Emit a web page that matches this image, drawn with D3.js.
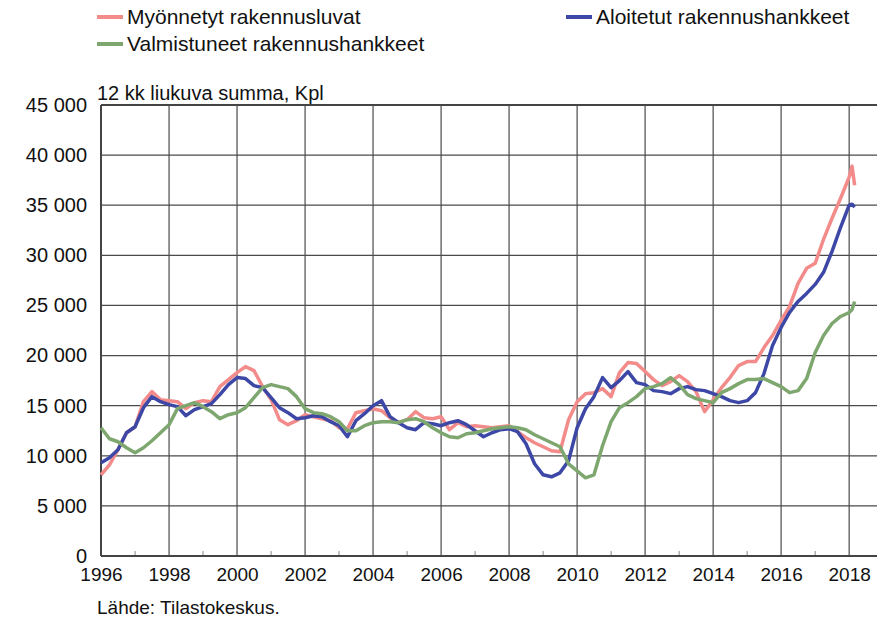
<!DOCTYPE html>
<html>
<head>
<meta charset="utf-8">
<script src="https://cdn.jsdelivr.net/npm/d3@7"></script>
<style>
  body { margin: 0; background: #fff; }
  text { font-family: "Liberation Sans", Arial, sans-serif; fill: #111; }
</style>
</head>
<body>
<div id="chart"></div>
<script>
// Quarterly readings (Jan/Apr/Jul/Oct), last two are Feb and Mar 2018
var myonnetyt = [
  8100, 9100, 10600, 12300,
  12900, 15400, 16400, 15600,
  15500, 15400, 14700, 15300,
  15500, 15400, 16900, 17600,
  18300, 18900, 18500, 16900,
  15600, 13600, 13100, 13500,
  14100, 13900, 13700, 13500,
  12800, 12700, 14300, 14500,
  14700, 14500, 13800, 13300,
  13600, 14400, 13800, 13700,
  13900, 12600, 13300, 12900,
  13000, 12900, 12800, 12900,
  13000, 12400, 11800, 11300,
  10900, 10500, 10400, 13600,
  15400, 16200, 16300, 16700,
  15900, 18300, 19300, 19200,
  18400, 17600, 17000, 17400,
  18000, 17400, 16400, 14400,
  15600, 16800, 17800, 19000,
  19400, 19400, 20800, 22000,
  23500, 24900, 27200, 28700,
  29200, 31600, 33700, 35700,
  37800, 38900, 37000
];

var aloitetut = [
  9300, 9800, 10600, 12300,
  12900, 14800, 15900, 15400,
  15100, 14900, 14000, 14600,
  14900, 15200, 16100, 17100,
  17800, 17700, 17000, 16800,
  15800, 14800, 14300, 13700,
  13800, 14000, 13900, 13400,
  13000, 11900, 13500, 14200,
  15000, 15500, 13900, 13300,
  12800, 12600, 13300, 13200,
  13000, 13300, 13500, 13100,
  12500, 11900, 12300, 12600,
  12700, 12400, 11200, 9200,
  8100, 7900, 8300, 9500,
  12800, 14700, 15900, 17800,
  16800, 17500, 18400, 17300,
  17100, 16500, 16400, 16200,
  16700, 16900, 16600, 16500,
  16200, 15900, 15500, 15300,
  15500, 16300, 18200, 21000,
  22800, 24300, 25400, 26200,
  27100, 28300, 30400, 32800,
  35000, 35100, 34800
];

var valmistuneet = [
  12800, 11700, 11400, 10800,
  10300, 10800, 11500, 12300,
  13100, 14700, 15000, 15300,
  14900, 14400, 13700, 14100,
  14300, 14800, 15800, 16800,
  17100, 16900, 16700, 15900,
  14700, 14300, 14200, 13900,
  13400, 12500, 12500, 13000,
  13300, 13400, 13400, 13300,
  13600, 13700, 13400, 12800,
  12300, 11900, 11800, 12200,
  12300, 12500, 12700, 12800,
  12900, 12800, 12600, 12100,
  11700, 11300, 10900, 9200,
  8500, 7800, 8100, 11000,
  13400, 14800, 15300, 15900,
  16700, 16900, 17200, 17800,
  17100, 16100, 15700, 15500,
  15300, 16300, 16700, 17200,
  17600, 17600, 17700, 17300,
  16900, 16300, 16500, 17700,
  20300, 22000, 23200, 23900,
  24300, 24600, 25400
];

var seriesNames = ["Myönnetyt rakennusluvat", "Aloitetut rakennushankkeet", "Valmistuneet rakennushankkeet"];
var seriesColors = ["#f28b89", "#3d47a6", "#7ea66f"];
var yTicks = [0, 5000, 10000, 15000, 20000, 25000, 30000, 35000, 40000, 45000];
var majorYears = [1996, 1998, 2000, 2002, 2004, 2006, 2008, 2010, 2012, 2014, 2016, 2018];
var minorYears = [1997, 1999, 2001, 2003, 2005, 2007, 2009, 2011, 2013, 2015, 2017];

// period dates
var dates = d3.timeMonth.every(3).range(new Date(1996, 0, 1), new Date(2018, 1, 1));
dates.push(new Date(2018, 1, 1), new Date(2018, 2, 1));

var svgWidth = 877;
var svgHeight = 620;
var margin = { top: 105, right: 0, bottom: 64, left: 101 };
var width = svgWidth - margin.left - margin.right;
var height = svgHeight - margin.top - margin.bottom;

var svg = d3.select("#chart")
    .append("svg")
    .attr("width", svgWidth)
    .attr("height", svgHeight);

var chartGroup = svg.append("g")
    .attr("transform", `translate(${margin.left}, ${margin.top})`);

var xScale = d3.scaleTime()
    .domain([new Date(1996, 0, 1), new Date(2018, 9, 27)])
    .range([0, width]);

var yScale = d3.scaleLinear()
    .domain([0, 45000])
    .range([height, 0]);

// horizontal grid
chartGroup.append("g")
    .selectAll("line")
    .data(yTicks.slice(1, -1))
    .enter()
    .append("line")
    .attr("x1", 0)
    .attr("x2", width)
    .attr("y1", d => yScale(d))
    .attr("y2", d => yScale(d))
    .attr("stroke", "#4a4a4a")
    .attr("stroke-width", 1.2);

// vertical grid
chartGroup.append("g")
    .selectAll("line")
    .data(majorYears.slice(1))
    .enter()
    .append("line")
    .attr("x1", d => xScale(new Date(d, 0, 1)))
    .attr("x2", d => xScale(new Date(d, 0, 1)))
    .attr("y1", 0)
    .attr("y2", height)
    .attr("stroke", "#4a4a4a")
    .attr("stroke-width", 1.2);

// minor ticks on odd years
chartGroup.append("g")
    .selectAll("line")
    .data(minorYears)
    .enter()
    .append("line")
    .attr("x1", d => xScale(new Date(d, 0, 1)))
    .attr("x2", d => xScale(new Date(d, 0, 1)))
    .attr("y1", height)
    .attr("y2", height - 5)
    .attr("stroke", "#888")
    .attr("stroke-width", 1);

// top border and axes lines
chartGroup.append("line")
    .attr("x1", 0).attr("x2", width)
    .attr("y1", 0).attr("y2", 0)
    .attr("stroke", "#444").attr("stroke-width", 2);
chartGroup.append("line")
    .attr("x1", 0).attr("x2", width)
    .attr("y1", height).attr("y2", height)
    .attr("stroke", "#444").attr("stroke-width", 2);
chartGroup.append("line")
    .attr("x1", 0).attr("x2", 0)
    .attr("y1", 0).attr("y2", height)
    .attr("stroke", "#444").attr("stroke-width", 2);

// y labels
var fmt = v => d3.format(",")(v).replace(/,/g, " ");
var leftAxis = d3.axisLeft(yScale)
    .tickValues(yTicks)
    .tickSize(0)
    .tickPadding(14)
    .tickFormat(fmt);
var yAxisG = chartGroup.append("g").call(leftAxis);
yAxisG.select(".domain").remove();
yAxisG.selectAll("text")
    .attr("font-size", 20)
    .attr("font-family", null)
    .attr("fill", "#111");

// x labels
var bottomAxis = d3.axisBottom(xScale)
    .tickValues(majorYears.map(y => new Date(y, 0, 1)))
    .tickSize(0)
    .tickPadding(12)
    .tickFormat(d3.timeFormat("%Y"));
var xAxisG = chartGroup.append("g")
    .attr("transform", `translate(0, ${height})`)
    .call(bottomAxis);
xAxisG.select(".domain").remove();
xAxisG.selectAll("text")
    .attr("font-size", 19)
    .attr("font-family", null)
    .attr("fill", "#111");

// lines
var allSeries = [myonnetyt, aloitetut, valmistuneet];
var line = d3.line()
    .x((d, i) => xScale(dates[i]))
    .y(d => yScale(d));

chartGroup.selectAll(".series")
    .data(allSeries)
    .enter()
    .append("path")
    .attr("class", "series")
    .attr("d", d => line(d))
    .attr("fill", "none")
    .attr("stroke", (d, i) => seriesColors[i])
    .attr("stroke-width", 3.5)
    .attr("stroke-linejoin", "round");

// legend
var legendPos = [[97, 17], [566, 17], [97, 44]];
var legend = svg.selectAll(".legend")
    .data(seriesNames)
    .enter()
    .append("g")
    .attr("class", "legend")
    .attr("transform", (d, i) => `translate(${legendPos[i][0]}, ${legendPos[i][1]})`);

legend.append("line")
    .attr("x1", 0).attr("x2", 26)
    .attr("y1", 0).attr("y2", 0)
    .attr("stroke", (d, i) => seriesColors[i])
    .attr("stroke-width", 4);

legend.append("text")
    .attr("x", 30)
    .attr("y", 7)
    .attr("font-size", 21)
    .text(d => d);

// unit label and source
svg.append("text")
    .attr("x", 97)
    .attr("y", 100)
    .attr("font-size", 20)
    .text("12 kk liukuva summa, Kpl");

svg.append("text")
    .attr("x", 97)
    .attr("y", 614)
    .attr("font-size", 19)
    .text("Lähde: Tilastokeskus.");
</script>
</body>
</html>
